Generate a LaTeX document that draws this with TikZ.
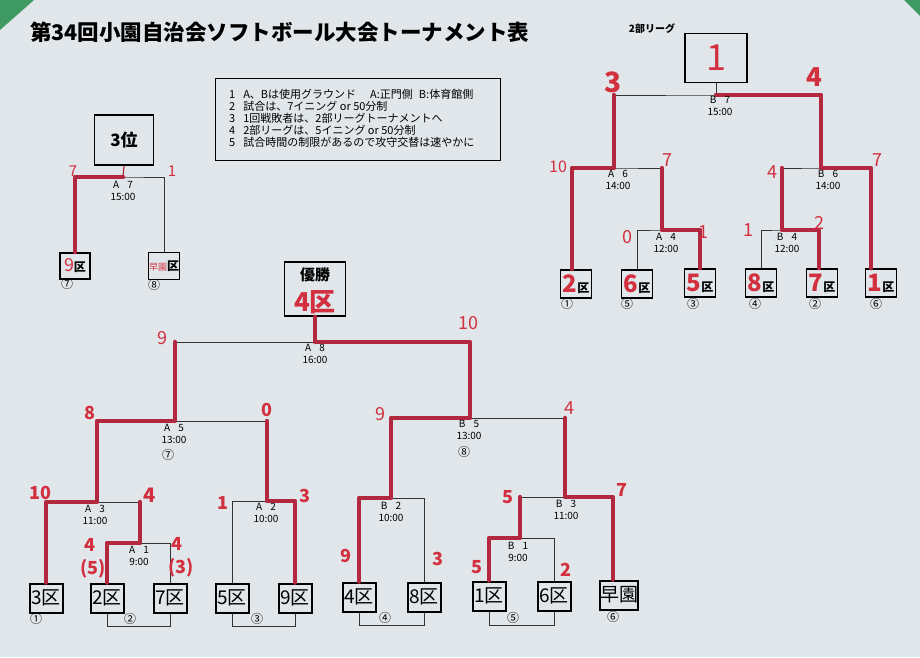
\documentclass[tikz,border=0pt]{standalone}
\usepackage{fontspec}
\setmainfont{Noto Sans CJK JP}
\definecolor{bg}{HTML}{E0E6E9}
\definecolor{redline}{HTML}{B2283E}
\definecolor{redtxt}{HTML}{D2303F}
\definecolor{grn}{HTML}{3E9A62}
\begin{document}
\begin{tikzpicture}[x=1pt,y=-1pt,
  wire/.style={line width=0.8pt,black!80},
  win/.style={line width=4.5pt,redline,line cap=round,line join=round},
  team/.style={draw,line width=2pt,minimum width=33pt,minimum height=29pt,inner sep=0pt,font=\fontsize{19}{19}\selectfont},
  lteam/.style={draw,line width=1.8pt,minimum width=31pt,minimum height=28pt,inner sep=0pt},
  mlbl/.style={font=\fontsize{10}{12}\selectfont,align=center,inner sep=0pt},
  sc/.style={text=redtxt,font=\fontsize{18}{18}\selectfont\bfseries,inner sep=0pt},
  scl/.style={text=redtxt,font=\fontsize{18}{18}\selectfont,inner sep=0pt},
  circ/.style={font=\fontsize{12}{12}\selectfont,inner sep=0pt},
  nt/.style={font=\fontsize{11}{12}\selectfont,anchor=west,inner sep=0pt}]
\fill[bg] (0,0) rectangle (920,657);
\useasboundingbox (0,0) rectangle (920,657);
\fill[grn] (0,0) -- (34,0) -- (0,30) -- cycle;
\fill[grn] (904,0) -- (920,0) -- (920,16) -- cycle;

% title and notes
\node[font=\fontsize{21.5}{21.5}\selectfont\bfseries,anchor=west,inner sep=0pt] (title) at (30,32) {第34回小園自治会ソフトボール大会トーナメント表};
\node[draw,line width=0.6pt,minimum width=285pt,minimum height=82pt,inner sep=0pt] (notes) at (357.5,119) {};
\node[nt] (n1) at (229,94) {1\hspace{8pt}A、Bは使用グラウンド\hspace{14pt}A:正門側\hspace{6pt}B:体育館側};
\node[nt] (n2) at (229,106) {2\hspace{8pt}試合は、7イニング or 50分制};
\node[nt] (n3) at (229,118) {3\hspace{8pt}1回戦敗者は、2部リーグトーナメントへ};
\node[nt] (n4) at (229,130.5) {4\hspace{8pt}2部リーグは、5イニング or 50分制};
\node[nt] (n5) at (229,142.5) {5\hspace{8pt}試合時間の制限があるので攻守交替は速やかに};

% ---------- main bracket ----------
\node[team] (m3) at (46,598) {3区};
\node[team] (m2) at (107,598) {2区};
\node[team] (m7) at (170,598) {7区};
\node[team] (m5) at (232,598) {5区};
\node[team] (m9) at (295,598) {9区};
\node[team] (m4) at (359,597) {4区};
\node[team] (m8) at (424,597) {8区};
\node[team] (m1) at (489,596) {1区};
\node[team] (m6) at (554,596) {6区};
\node[team,minimum width=34pt] (mh) at (619,595) {早園};
\node[draw,line width=1.8pt,minimum width=61pt,minimum height=54pt,inner sep=0pt] (champ) at (315,289) {};
\node[font=\fontsize{15}{15}\selectfont\bfseries,inner sep=0pt] (champa) at (315,275) {優勝};
\node[text=redtxt,font=\fontsize{26}{26}\selectfont\bfseries,inner sep=0pt] (champb) at (315,302) {4区};

\coordinate (a1) at (140,543);
\coordinate (a3) at (97,502);
\coordinate (a2) at (267,501);
\coordinate (a5) at (175,421);
\coordinate (a8) at (315,342);
\coordinate (b2) at (391,498);
\coordinate (b1) at (520,538);
\coordinate (b3) at (565,497);
\coordinate (b5) at (470,418);
\coordinate (mhin) at ([xshift=-6pt]mh.north);

\draw[wire] (m2.north) |- (a1) -| (m7.north);
\draw[wire] (m3.north) |- (a3) -| (a1);
\draw[wire] (m5.north) |- (a2) -| (m9.north);
\draw[wire] (a3) |- (a5) -| (a2);
\draw[wire] (a5) |- (a8) -| (b5);
\draw[wire] (m4.north) |- (b2) -| (m8.north);
\draw[wire] (m1.north) |- (b1) -| (m6.north);
\draw[wire] (b1) |- (b3) -| (mhin);
\draw[wire] (b2) |- (b5) -| (b3);
\draw[wire] (a8) -- (champ.south);
\draw[wire] (m2.south) -- ++(0,13) -| (m7.south);
\draw[wire] (m5.south) -- ++(0,13) -| (m9.south);
\draw[wire] (m4.south) -- ++(0,13) -| (m8.south);
\draw[wire] (m1.south) -- ++(0,14) -| (m6.south);

\draw[win] (m2.north) |- (a1) -- (a1 |- a3);
\draw[win] (m3.north) |- (a3) -- (a3 |- a5) -- (a5) -- (a5 |- a8);
\draw[win] (m9.north) |- (a2) -- (a2 |- a5);
\draw[win] (m4.north) |- (b2) -- (b2 |- b5) -- (b5) -- (b5 |- a8) -- (a8) -- (champ.south);
\draw[win] (m1.north) |- (b1) -- (b1 |- b3);
\draw[win] (mhin) |- (b3) -- (b3 |- b5);

\node[mlbl] (tA8) at (315,354) {A\hspace{0.8em}8\\16:00};
\node[mlbl] (tA5) at (174,434) {A\hspace{0.8em}5\\13:00};
\node[mlbl] (tA3) at (95,515) {A\hspace{0.8em}3\\11:00};
\node[mlbl] (tA1) at (139,556) {A\hspace{0.8em}1\\9:00};
\node[mlbl] (tA2) at (266,513) {A\hspace{0.8em}2\\10:00};
\node[mlbl] (tB5) at (469,430) {B\hspace{0.8em}5\\13:00};
\node[mlbl] (tB2) at (391,512) {B\hspace{0.8em}2\\10:00};
\node[mlbl] (tB3) at (566,510) {B\hspace{0.8em}3\\11:00};
\node[mlbl] (tB1) at (518,552) {B\hspace{0.8em}1\\9:00};
\node[circ] (cA5) at (168,455) {⑦};
\node[circ] (cB5) at (464,452) {⑧};
\node[circ] (c1) at (36,619) {①};
\node[circ] (c2) at (130,619) {②};
\node[circ] (c3) at (257,619) {③};
\node[circ] (c4) at (385,618) {④};
\node[circ] (c5) at (513,618) {⑤};
\node[circ] (c6) at (613,617) {⑥};

\node[scl] (s1) at (162,338) {9};
\node[scl] (s2) at (468,323) {10};
\node[sc] (s3) at (90,413) {8};
\node[sc] (s4) at (267,410) {0};
\node[sc] (s5) at (40,493) {10};
\node[sc,font=\fontsize{20}{20}\selectfont\bfseries] (s6) at (150,495) {4};
\node[sc] (s7) at (90,545) {4};
\node[sc] (s8) at (93,569) {(5)};
\node[sc] (s9) at (177,544) {4};
\node[sc] (s10) at (181,568) {(3)};
\node[sc] (s11) at (223,503) {1};
\node[sc] (s12) at (305,496) {3};
\node[scl] (s13) at (380,414) {9};
\node[scl] (s14) at (569,408) {4};
\node[sc] (s15) at (346,556) {9};
\node[sc] (s16) at (438,559) {3};
\node[sc] (s17) at (508,497) {5};
\node[sc] (s18) at (622,490) {7};
\node[sc] (s19) at (477,567) {5};
\node[sc] (s20) at (566,570) {2};

% ---------- 3rd place ----------
\node[draw,line width=1.8pt,minimum width=59pt,minimum height=50pt,inner sep=0pt,font=\fontsize{17}{17}\selectfont\bfseries] (third) at (124,140) {3位};
\node[lteam,minimum width=30pt,minimum height=26pt] (k9) at (75,266)
  {{\color{redtxt}\fontsize{18}{18}\selectfont 9}{\fontsize{12}{12}\selectfont\bfseries 区}};
\node[lteam,minimum width=31pt,minimum height=27pt] (k8) at (164,266)
  {{\color{redtxt}\fontsize{9}{9}\selectfont 早園}{\fontsize{12}{12}\selectfont\bfseries 区}};
\coordinate (t7) at (123,177);
\draw[wire] (k9.north) |- (t7) -| (k8.north);
\draw[win] (k9.north) |- (t7);
\draw[redline,line width=1.2pt] (t7) -- (third.south);
\node[mlbl] (tA7) at (123,191) {A\hspace{0.8em}7\\15:00};
\node[circ] (c7) at (67,284) {⑦};
\node[circ] (c8) at (154,285) {⑧};
\node[scl,font=\fontsize{15}{15}\selectfont] (s21) at (73,171) {7};
\node[scl,font=\fontsize{15}{15}\selectfont] (s22) at (172,171) {1};

% ---------- 2nd division league ----------
\node[font=\fontsize{10}{10}\selectfont\bfseries,inner sep=0pt] (lg) at (652,29) {2部リーグ};
\node[draw,line width=1.6pt,minimum width=62pt,minimum height=49pt,inner sep=0pt,text=redtxt,font=\fontsize{36}{36}\selectfont] (league) at (716,58) {1};
\newcommand{\lt}[1]{{\color{redtxt}\fontsize{24}{24}\selectfont\bfseries #1}{\fontsize{12}{12}\selectfont\bfseries 区}}
\node[lteam] (l2) at (576,284) {\lt{2}};
\node[lteam] (l6) at (637,284) {\lt{6}};
\node[lteam] (l5) at (700,283) {\lt{5}};
\node[lteam] (l8) at (761,283) {\lt{8}};
\node[lteam] (l7) at (822,283) {\lt{7}};
\node[lteam] (l1) at (881,283) {\lt{1}};
\coordinate (a4) at (662,230);
\coordinate (a6) at (614,168);
\coordinate (b4) at (782,230);
\coordinate (b6) at (821,168);
\coordinate (b7) at (716,95);
\coordinate (l1in) at ([xshift=-10pt]l1.north);
\coordinate (l7in) at ([xshift=-3pt]l7.north);
\coordinate (l2in) at ([xshift=-4pt]l2.north);

\draw[wire] (l6.north) |- (a4) -| (l5.north);
\draw[wire] (l2in) |- (a6) -| (a4);
\draw[wire] (l8.north) |- (b4) -| (l7in);
\draw[wire] (b4) |- (b6) -| (l1in);
\draw[wire] (a6) |- (b7) -| (b6);
\draw[wire] (b7) -- (league.south);

\draw[win] (l2in) |- (a6) -- (a6 |- b7);
\draw[win] (l5.north) |- (a4) -- (a4 |- a6);
\draw[win] (l7in) |- (b4) -- (b4 |- b6);
\draw[win] (l1in) |- (b6) -- (b6 |- b7) -- (b7);

\node[mlbl] (tB7) at (720,106) {B\hspace{0.8em}7\\15:00};
\node[mlbl] (tA6) at (618,180) {A\hspace{0.8em}6\\14:00};
\node[mlbl] (tA4) at (666,243) {A\hspace{0.8em}4\\12:00};
\node[mlbl] (tB4) at (787,243) {B\hspace{0.8em}4\\12:00};
\node[mlbl] (tB6) at (828,180) {B\hspace{0.8em}6\\14:00};
\node[circ] (d1) at (567,304) {①};
\node[circ] (d5) at (627,304) {⑤};
\node[circ] (d3) at (693,304) {③};
\node[circ] (d4) at (755,304) {④};
\node[circ] (d2) at (815,304) {②};
\node[circ] (d6) at (876,304) {⑥};

\node[sc,font=\fontsize{28}{28}\selectfont\bfseries] (s23) at (613,82) {3};
\node[sc,font=\fontsize{26}{26}\selectfont\bfseries] (s24) at (814,77) {4};
\node[scl,font=\fontsize{16}{16}\selectfont] (s25) at (558,167) {10};
\node[scl] (s26) at (667,160) {7};
\node[scl] (s27) at (627,237) {0};
\node[scl] (s28) at (703,232) {1};
\node[scl] (s29) at (772,172) {4};
\node[scl] (s30) at (877,160) {7};
\node[scl] (s31) at (748,230) {1};
\node[scl] (s32) at (819,223) {2};
\end{tikzpicture}
\end{document}
